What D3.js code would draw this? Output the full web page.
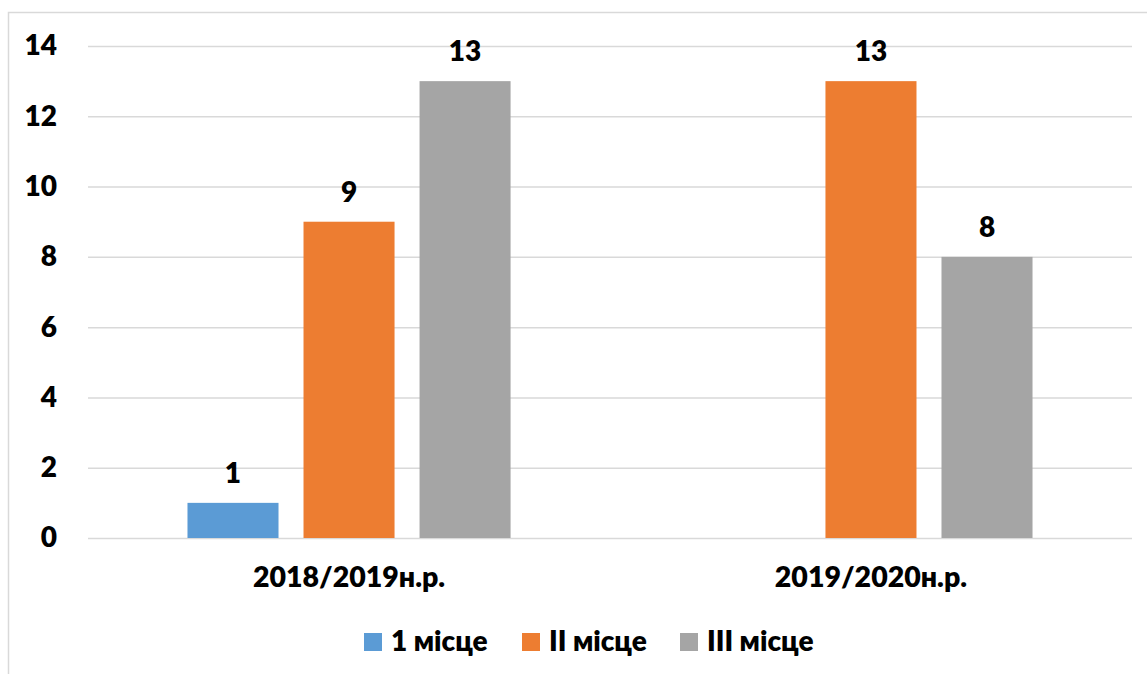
<!DOCTYPE html>
<html>
<head>
<meta charset="utf-8">
<script src="https://cdn.jsdelivr.net/npm/d3@7"></script>
<style>
  body { margin: 0; background: #fff; }
  svg { display: block; font-family: Lato, "Open Sans", sans-serif; font-weight: 800; }
</style>
</head>
<body>
<svg></svg>
<script>
var width = 1147
var height = 674

// data
var years = ['2018/2019н.р.', '2019/2020н.р.']
var places = ['1 місце', 'II місце', 'III місце']
var placeColors = ['#5B9BD5', '#ED7D31', '#A5A5A5']
var firstPlace = [1, null]
var secondPlace = [9, 13]
var thirdPlace = [13, 8]
var yTicks = [0, 2, 4, 6, 8, 10, 12, 14]

var series = [firstPlace, secondPlace, thirdPlace]

var svg = d3.select('svg').attr('width', width).attr('height', height)

svg.append('rect').attr('width', width).attr('height', height).attr('fill', '#fff')

// chart frame (runs off the right and bottom edges)
svg.append('rect')
	.attr('x', 8.5).attr('y', 12.5)
	.attr('width', width + 20).attr('height', height + 20)
	.attr('fill', 'none')
	.attr('stroke', '#d9d9d9')
	.attr('stroke-width', 1.5)

var plotLeft = 88, plotRight = 1132, plotTop = 46, plotBottom = 538

var y = d3.scaleLinear().domain([0, 14]).range([plotBottom, plotTop])

var x0 = d3.scaleBand()
	.domain(years)
	.range([plotLeft, plotRight])
	.paddingInner(0.381)
	.paddingOuter(0.1906)

var x1 = d3.scaleBand()
	.domain(places)
	.range([0, x0.bandwidth()])
	.paddingInner(0.2155)
	.paddingOuter(0)

// y axis with gridlines
var yAxis = svg.append('g')
	.attr('transform', 'translate(' + plotLeft + ',0)')
	.call(d3.axisLeft(y).tickValues(yTicks).tickSize(-(plotRight - plotLeft)).tickPadding(31))
yAxis.select('.domain').remove()
yAxis.selectAll('line').attr('stroke', '#d9d9d9').attr('stroke-width', 1.5)
yAxis.selectAll('text').attr('font-size', 28).attr('font-weight', 800).attr('fill', '#000')
	.attr('font-family', 'Lato, sans-serif')

// category labels
var xAxis = svg.append('g')
	.attr('transform', 'translate(0,' + plotBottom + ')')
	.call(d3.axisBottom(x0).tickSize(0).tickPadding(29))
xAxis.select('.domain').remove()
xAxis.selectAll('text').attr('font-size', 28.5).attr('font-weight', 800).attr('fill', '#000')
	.attr('font-family', 'Lato, sans-serif')

// bars
var barData = []
years.forEach(function(year, i) {
	places.forEach(function(place, j) {
		if (series[j][i] != null) barData.push({year: year, place: place, value: series[j][i], color: placeColors[j]})
	})
})

var bars = svg.append('g')
bars.selectAll('rect').data(barData).enter().append('rect')
	.attr('x', function(d) {return x0(d.year) + x1(d.place)})
	.attr('y', function(d) {return y(d.value)})
	.attr('width', x1.bandwidth())
	.attr('height', function(d) {return y(0) - y(d.value)})
	.attr('fill', function(d) {return d.color})

bars.selectAll('text').data(barData).enter().append('text')
	.attr('x', function(d) {return x0(d.year) + x1(d.place) + x1.bandwidth() / 2})
	.attr('y', function(d) {return y(d.value) - 20})
	.attr('text-anchor', 'middle')
	.attr('font-size', 28)
	.text(function(d) {return d.value})

// legend
var legendX = [364, 522, 680]
var legend = svg.append('g')
var items = legend.selectAll('g').data(places).enter().append('g')
	.attr('transform', function(d, i) {return 'translate(' + legendX[i] + ',633)'})
items.append('rect').attr('width', 18).attr('height', 18)
	.attr('fill', function(d, i) {return placeColors[i]})
items.append('text').attr('x', 27).attr('y', 18)
	.attr('font-size', 28)
	.text(function(d) {return d})
</script>
</body>
</html>
